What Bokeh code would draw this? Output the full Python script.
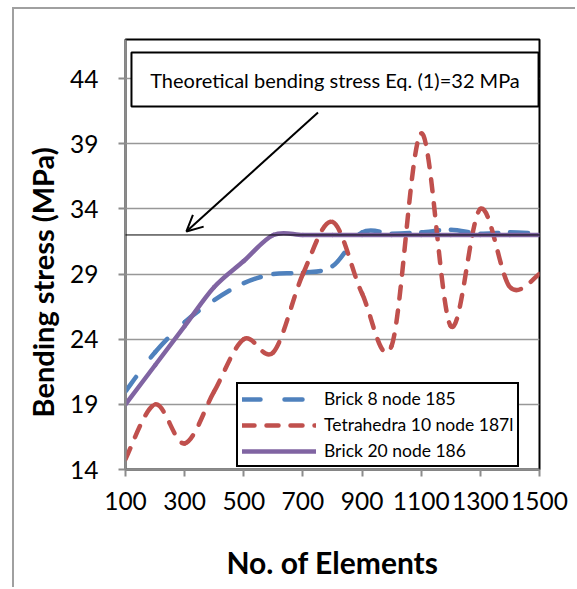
from bokeh.plotting import figure
from bokeh.models import (Range1d, FixedTicker, Legend, LegendItem, Label, Title,
                          BoxAnnotation, Arrow, OpenHead)
from bokeh.embed import file_html
from bokeh.resources import INLINE

# ---------------- data ----------------
elements = [100, 200, 300, 400, 500, 600, 700, 800, 900, 1000, 1100, 1200, 1300, 1400, 1500]
brick8 = [20.0, 23.0, 25.3, 27.0, 28.3, 29.0, 29.1, 29.6, 32.2, 32.1, 32.2, 32.4, 32.1, 32.2, 32.1]
tetra10 = [14.8, 19.0, 16.0, 20.0, 24.0, 23.0, 29.0, 33.0, 27.5, 23.5, 39.8, 25.0, 34.0, 28.0, 29.0]
brick20 = [19.0, 22.0, 25.0, 28.0, 30.0, 32.0, 32.0, 32.0, 32.0, 32.0, 32.0, 32.0, 32.0, 32.0, 32.0]
series_names = ["Brick 8 node 185", "Tetrahedra 10 node 187l", "Brick 20 node 186"]
theoretical = 32
x_ticks = [100, 300, 500, 700, 900, 1100, 1300, 1500]
y_ticks = [14, 19, 24, 29, 34, 39, 44]
note_text = "Theoretical bending stress Eq. (1)=32 MPa"
x_title = "No. of Elements"
y_title = "Bending stress (MPa)"

FONT = "Lato"

p = figure(width=563, height=580, output_backend="svg", toolbar_location=None,
           x_range=Range1d(100, 1500), y_range=Range1d(14, 47),
           min_border_left=110, min_border_right=38, min_border_top=30, min_border_bottom=120)
p.styles = {"margin-left": "12px", "margin-top": "7px",
            "border-left": "2px solid #a0a0a0", "border-top": "2px solid #a0a0a0"}

p.background_fill_color = "white"
p.border_fill_color = "white"
p.outline_line_color = "black"
p.outline_line_width = 2

p.xgrid.grid_line_color = None
p.ygrid.grid_line_color = "#989898"
p.ygrid.grid_line_width = 1.5
p.ygrid.ticker = FixedTicker(ticks=y_ticks)

for ax in (p.xaxis[0], p.yaxis[0]):
    ax.axis_line_color = "#8c8c8c"
    ax.axis_line_width = 2
    ax.major_tick_line_color = "#8c8c8c"
    ax.major_tick_line_width = 2
    ax.major_tick_out = 7
    ax.major_tick_in = 0
    ax.minor_tick_line_color = None
    ax.major_label_text_font = FONT
    ax.major_label_text_font_size = "24.5px"
    ax.major_label_text_color = "black"

p.xaxis.ticker = FixedTicker(ticks=x_ticks)
p.yaxis.ticker = FixedTicker(ticks=y_ticks)
p.xaxis.major_label_standoff = 15
p.yaxis.major_label_standoff = 20
p.xaxis.axis_label = x_title
p.xaxis.axis_label_text_font = FONT
p.xaxis.axis_label_text_font_style = "bold"
p.xaxis.axis_label_text_font_size = "30px"
p.xaxis.axis_label_text_color = "black"
p.xaxis.axis_label_standoff = 31


def smooth_segments(xs, ys):
    """Bezier control points (Excel-like smoothed line) from the read values."""
    n = len(xs)
    out = {k: [] for k in ("x0", "y0", "x1", "y1", "cx0", "cy0", "cx1", "cy1")}
    for i in range(n - 1):
        a = max(i - 1, 0)
        b = min(i + 2, n - 1)
        out["x0"].append(xs[i]); out["y0"].append(ys[i])
        out["x1"].append(xs[i + 1]); out["y1"].append(ys[i + 1])
        out["cx0"].append(xs[i] + (xs[i + 1] - xs[a]) / 6)
        out["cy0"].append(ys[i] + (ys[i + 1] - ys[a]) / 6)
        out["cx1"].append(xs[i + 1] - (xs[b] - xs[i]) / 6)
        out["cy1"].append(ys[i + 1] - (ys[b] - ys[i]) / 6)
    return out


styles = [
    dict(line_color="#4F81BD", line_width=4.5, line_dash="18 24", line_cap="round"),
    dict(line_color="#C0504D", line_width=4.5, line_dash="12 12", line_cap="round"),
    dict(line_color="#8064A2", line_width=4.5, line_cap="round"),
]

items = []
for name, ys, st in zip(series_names, [brick8, tetra10, brick20], styles):
    seg = smooth_segments(elements, ys)
    p.bezier(**seg, **st)
    # hidden straight-line twin only used to draw the legend swatch
    twin = p.line(x=elements, y=ys, visible=False, **st)
    items.append(LegendItem(label=name, renderers=[twin]))

legend = Legend(items=items, location=(111, 2), orientation="vertical",
                border_line_color="black", border_line_width=2, border_line_alpha=1,
                background_fill_color="white", background_fill_alpha=1,
                inactive_fill_alpha=0,
                label_text_font=FONT, label_text_font_size="17.5px", label_text_color="black",
                glyph_width=74, glyph_height=18, label_height=18, label_standoff=8,
                spacing=5, padding=4, margin=0, click_policy="none")
p.add_layout(legend, "center")

# theoretical line
p.add_layout(Arrow(end=None, x_start=53, y_start=theoretical, x_end=1520, y_end=theoretical,
                   line_color="black", line_width=1))

# note box and pointer
p.add_layout(BoxAnnotation(left=120.2, right=1496.8, top=46.0, bottom=41.86,
                           fill_color="white", fill_alpha=1, line_color="black",
                           line_width=2, line_alpha=1, level="overlay"))
p.add_layout(Label(x=808.5, y=43.93, text=note_text, text_align="center", text_baseline="middle",
                   text_font=FONT, text_font_size="20px", text_color="black", level="overlay"))
p.add_layout(Arrow(end=OpenHead(size=16, line_width=2, line_color="black"),
                   x_start=751, y_start=41.4, x_end=306, y_end=theoretical + 0.27,
                   line_color="black", line_width=2))

# y axis title
p.add_layout(Title(text=y_title, align="left", offset=52, standoff=16,
                   text_font=FONT, text_font_style="bold", text_font_size="29px",
                   text_color="black"), "left")

open("out.html", "w").write(file_html(p, INLINE))
